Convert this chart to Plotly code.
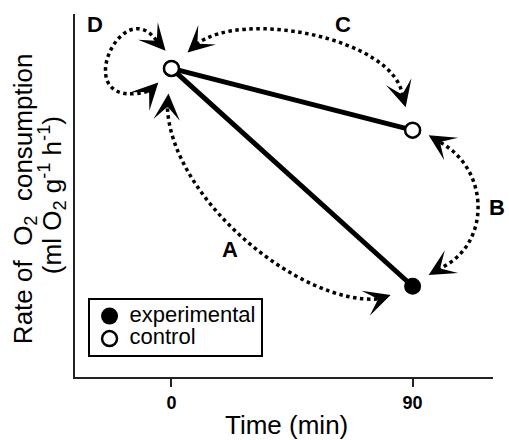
import plotly.graph_objects as go

# Data
time_min = [0, 90]
experimental = [85, 25]
control = [85, 68]
tick_vals = [0, 90]
tick_text = ["0", "90"]
series_names = ["experimental", "control"]

FONT = "Liberation Sans, Arial, sans-serif"

fig = go.Figure()

# Main lines
fig.add_trace(go.Scatter(x=time_min, y=experimental, mode="lines+markers",
                         line=dict(color="black", width=5),
                         marker=dict(size=15, color="black", line=dict(color="black", width=2)),
                         showlegend=False, cliponaxis=False))
fig.add_trace(go.Scatter(x=time_min, y=control, mode="lines+markers",
                         line=dict(color="black", width=5),
                         marker=dict(size=15, color="white", line=dict(color="black", width=2.5)),
                         showlegend=False, cliponaxis=False))
# Legend entries
fig.add_trace(go.Scatter(x=[None], y=[None], mode="markers",
                         name=f'<span style="font-size:22px">{series_names[0]}</span>',
                         marker=dict(size=15, color="black", line=dict(color="black", width=2))))
fig.add_trace(go.Scatter(x=[None], y=[None], mode="markers",
                         name=f'<span style="font-size:22px">{series_names[1]}</span>',
                         marker=dict(size=15, color="white", line=dict(color="black", width=2.5))))

# Dotted curved arrows (cubic bezier, data coordinates)
curves = [
    ((-5.6, 92.7), (-19.0, 106.4), (-39.6, 72.1), (-7.8, 78.9)),   # D
    ((9.3, 91.6), (25.8, 101.5), (83.6, 93.5), (86.3, 77.3)),      # C
    ((100.4, 64.6), (119.1, 56.9), (119.1, 36.3), (100.4, 30.0)),  # B
    ((-1.5, 74.0), (0.4, 48.7), (48.2, 19.8), (77.3, 21.5)),       # A
]
shapes = []
for p0, p1, p2, p3 in curves:
    path = f"M {p0[0]},{p0[1]} C {p1[0]},{p1[1]} {p2[0]},{p2[1]} {p3[0]},{p3[1]}"
    shapes.append(dict(type="path", path=path, xref="x", yref="y",
                       line=dict(color="black", width=3.5, dash="dot")))

# Arrowheads: (tip, tail)
heads = [
    ((-2.2, 89.9), (-5.6, 92.7)),
    ((-4.9, 81.1), (-7.8, 78.9)),
    ((6.0, 89.4), (9.3, 91.6)),
    ((87.4, 74.3), (86.3, 77.3)),
    ((96.0, 66.6), (100.4, 64.6)),
    ((96.0, 28.1), (100.4, 30.0)),
    ((-1.1, 78.1), (-1.5, 74.0)),
    ((81.8, 22.6), (77.3, 21.5)),
]
annotations = []
for tip, tail in heads:
    annotations.append(dict(x=tip[0], y=tip[1], ax=tail[0], ay=tail[1],
                            xref="x", yref="y", axref="x", ayref="y",
                            text="", showarrow=True, arrowhead=3,
                            arrowsize=2.2, arrowwidth=2, arrowcolor="black", standoff=0))

# Letter labels
for txt, px, py in [("D", 0.048, 0.970), ("C", 0.641, 0.970), ("B", 1.0096, 0.468), ("A", 0.371, 0.350)]:
    annotations.append(dict(x=px, y=py, xref="paper", yref="paper", text=txt, showarrow=False,
                            xanchor="center", yanchor="middle",
                            font=dict(family=FONT, size=22, color="black", weight="bold")))

# Axis titles
annotations.append(dict(x=0.507, y=-0.132, xref="paper", yref="paper", text="Time (min)",
                        showarrow=False, xanchor="center", yanchor="middle",
                        font=dict(family=FONT, size=26, color="black")))
annotations.append(dict(x=-0.122, y=0.490, xref="paper", yref="paper",
                        text="Rate of\u00a0 O<sub>2</sub>\u00a0 consumption", textangle=-90,
                        showarrow=False, xanchor="center", yanchor="middle",
                        font=dict(family=FONT, size=26, color="black")))
annotations.append(dict(x=-0.055, y=0.501, xref="paper", yref="paper",
                        text="(ml O<sub>2</sub> g<sup>-1</sup> h<sup>-1</sup>)", textangle=-90,
                        showarrow=False, xanchor="center", yanchor="middle",
                        font=dict(family=FONT, size=26, color="black")))

fig.update_layout(
    width=509, height=440,
    margin=dict(l=75, r=16, t=14, b=63),
    paper_bgcolor="white", plot_bgcolor="white",
    shapes=shapes, annotations=annotations,
    showlegend=True,
    legend=dict(x=0.030, y=0.218, xanchor="left", yanchor="top",
                bordercolor="black", borderwidth=2, bgcolor="white",
                font=dict(family=FONT, size=15, color="black"),
                itemwidth=30, tracegroupgap=0),
    xaxis=dict(range=[-36, 120], showline=True, linecolor="#222", linewidth=2,
               ticks="outside", ticklen=8, tickwidth=2, tickcolor="#222",
               tickvals=tick_vals, ticktext=tick_text, showgrid=False, zeroline=False,
               tickfont=dict(family=FONT, size=18, color="black", weight="bold")),
    yaxis=dict(range=[0, 100], showline=True, linecolor="#222", linewidth=2,
               ticks="", showticklabels=False, showgrid=False, zeroline=False),
)

fig.write_html("out.html", config={"displayModeBar": False},
               post_script="document.body.style.margin='0';document.body.style.padding='0';")
